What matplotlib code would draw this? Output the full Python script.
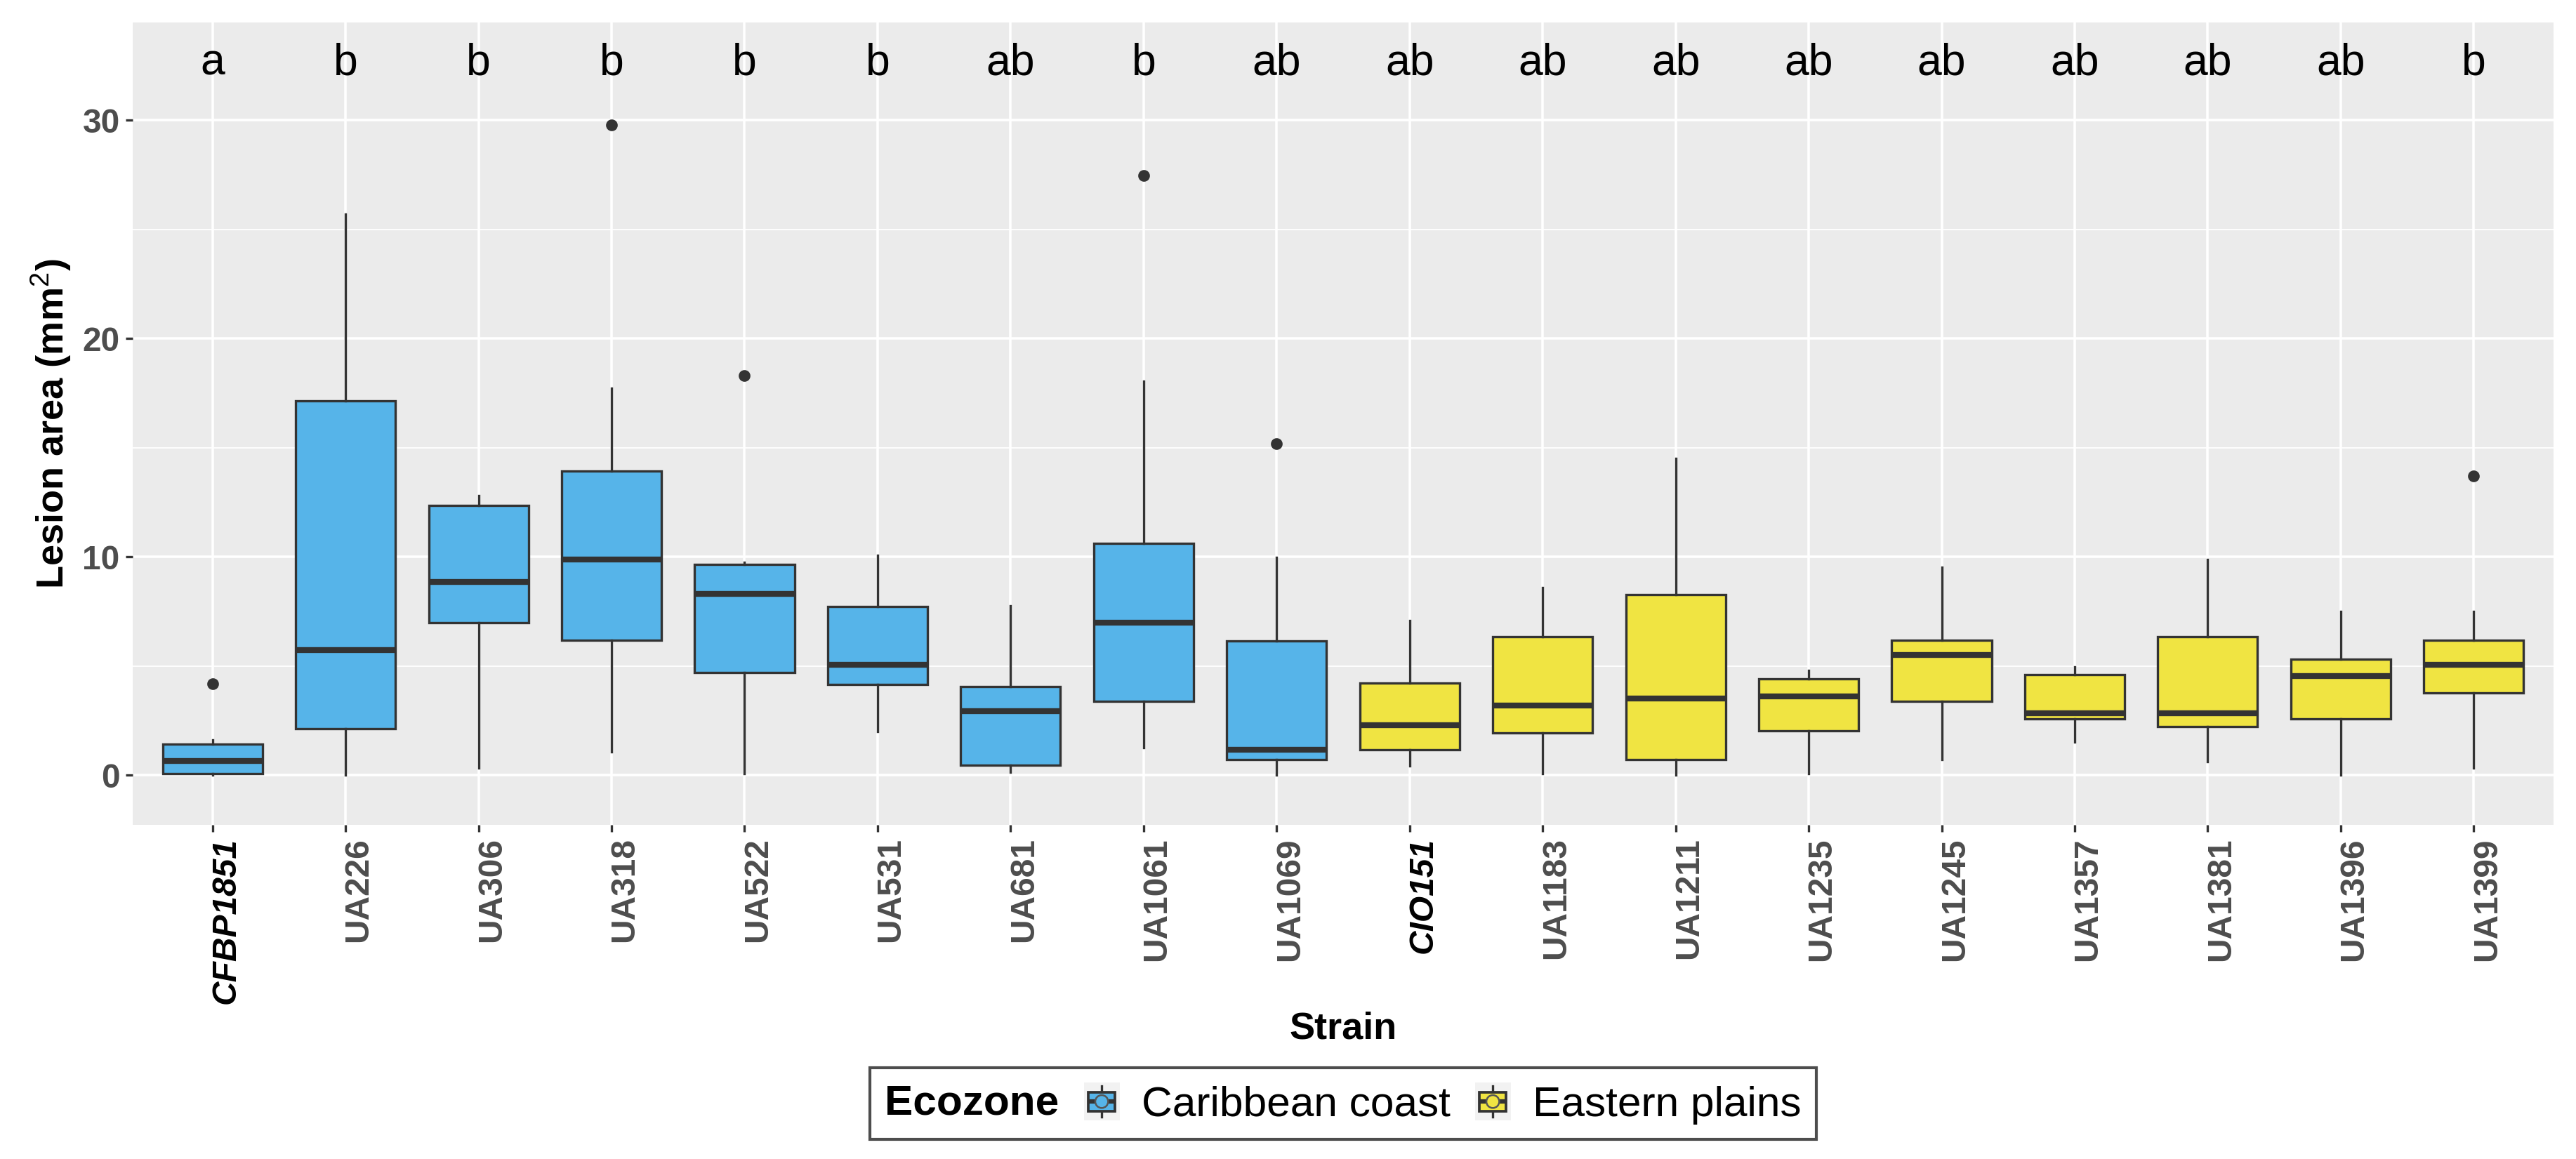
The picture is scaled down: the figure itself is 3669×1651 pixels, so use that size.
import matplotlib
matplotlib.use("Agg")
import matplotlib.pyplot as plt
from matplotlib.patches import Rectangle, Ellipse, Patch
from matplotlib.lines import Line2D
from matplotlib.legend_handler import HandlerBase
from matplotlib.transforms import ScaledTranslation

plt.rcParams['font.family'] = ['Liberation Sans', 'DejaVu Sans']
plt.rcParams['mathtext.fontset'] = 'custom'
plt.rcParams['mathtext.rm'] = 'Liberation Sans'
plt.rcParams['mathtext.it'] = 'Liberation Sans:italic'
plt.rcParams['mathtext.bf'] = 'Liberation Sans:bold'

# ---------------- data ----------------
strains = ['CFBP1851', 'UA226', 'UA306', 'UA318', 'UA522', 'UA531', 'UA681', 'UA1061', 'UA1069',
           'CIO151', 'UA1183', 'UA1211', 'UA1235', 'UA1245', 'UA1357', 'UA1381', 'UA1396', 'UA1399']
ecozone = ['Caribbean coast'] * 9 + ['Eastern plains'] * 9
reference_strains = ['CFBP1851', 'CIO151']
whislo = [0.0, 0.0, 0.33, 1.06, 0.07, 2.0, 0.14, 1.25, 0.0, 0.42, 0.07, 0.0, 0.07, 0.71, 1.53, 0.61, 0.0, 0.33]
q1 = [0.07, 2.12, 7.0, 6.17, 4.71, 4.15, 0.45, 3.39, 0.73, 1.18, 1.93, 0.73, 2.03, 3.39, 2.57, 2.22, 2.57, 3.77]
med = [0.66, 5.73, 8.86, 9.88, 8.32, 5.07, 2.95, 7.0, 1.18, 2.31, 3.21, 3.51, 3.61, 5.51, 2.85, 2.85, 4.53, 5.07]
q3 = [1.44, 17.16, 12.35, 13.93, 9.66, 7.73, 4.05, 10.61, 6.15, 4.22, 6.34, 8.27, 4.41, 6.17, 4.6, 6.34, 5.33, 6.17]
whishi = [1.63, 25.69, 12.82, 17.72, 9.76, 10.06, 7.75, 18.03, 9.97, 7.09, 8.6, 14.52, 4.81, 9.52, 4.95, 9.88, 7.49, 7.49]
outliers = [[4.2], [], [], [29.77], [18.31], [], [], [27.46], [15.18], [], [], [], [], [], [], [], [], [13.69]]
letters = ['a', 'b', 'b', 'b', 'b', 'b', 'ab', 'b', 'ab', 'ab', 'ab', 'ab', 'ab', 'ab', 'ab', 'ab', 'ab', 'b']
letter_y = 32.08
zone_colors = {'Caribbean coast': '#56B4E9', 'Eastern plains': '#F0E442'}

# ---------------- figure ----------------
W, H, DPI = 3669, 1651, 300
fig = plt.figure(figsize=(W / DPI, H / DPI), dpi=DPI)
pl, pr, pt, pb = 189, 3637, 32, 1175
ax = fig.add_axes([pl / W, 1 - pb / H, (pr - pl) / W, (pb - pt) / H])
ax.set_facecolor('#EBEBEB')
for s in ax.spines.values():
    s.set_visible(False)
ax.set_axisbelow(True)

positions = list(range(1, len(strains) + 1))
stats = []
for i, name in enumerate(strains):
    stats.append(dict(label=name, whislo=whislo[i], q1=q1[i], med=med[i], q3=q3[i],
                      whishi=whishi[i], fliers=outliers[i]))

edge = '#333333'
bp = ax.bxp(stats, positions=positions, widths=0.75, patch_artist=True, showcaps=False,
            boxprops=dict(edgecolor=edge, linewidth=0.8),
            whiskerprops=dict(color=edge, linewidth=0.8),
            medianprops=dict(color=edge, linewidth=2.0, solid_capstyle='butt'),
            flierprops=dict(marker='o', markerfacecolor=edge, markeredgecolor=edge,
                            markersize=3.0, linestyle='none'))
for patch, z in zip(bp['boxes'], ecozone):
    patch.set_facecolor(zone_colors[z])
    patch.set_zorder(3)
for ln in bp['medians'] + bp['whiskers'] + bp['fliers']:
    ln.set_zorder(4)

for x, lab in zip(positions, letters):
    ax.text(x, letter_y, lab, ha='center', va='baseline', fontsize=15, color='black')

ax.set_xlim(0.4, len(strains) + 0.6)
ax.set_ylim(-2.27, 34.47)
ax.set_yticks([0, 10, 20, 30])
ax.set_yticks([5, 15, 25], minor=True)
ax.grid(which='major', color='white', linewidth=0.85)
ax.grid(which='minor', axis='y', color='white', linewidth=0.45)
ax.tick_params(axis='y', which='minor', length=0)
ax.tick_params(axis='both', which='major', length=2.4, width=0.8, color=edge, pad=2.0)

ax.set_xticks(positions)
ax.set_xticklabels(strains, rotation=90, ha='center', va='top')
offset = ScaledTranslation(19 / DPI, 0, fig.dpi_scale_trans)
for lbl in ax.get_xticklabels():
    lbl.set_fontsize(11.5)
    lbl.set_fontweight('bold')
    lbl.set_transform(lbl.get_transform() + offset)
    if lbl.get_text() in reference_strains:
        lbl.set_fontstyle('italic')
        lbl.set_color('black')
    else:
        lbl.set_color('#4D4D4D')
for lbl in ax.get_yticklabels():
    lbl.set_fontsize(11.5)
    lbl.set_fontweight('bold')
    lbl.set_color('#4D4D4D')

fig.text(73 / W, 1 - 604 / H, r'Lesion area (mm$^{2}$)', rotation=90, ha='center', va='center',
         fontsize=13, fontweight='bold', color='black')
fig.text((pl + pr) / 2 / W, 1 - 1466 / H, 'Strain', ha='center', va='center',
         fontsize=13, fontweight='bold', color='black')


# ---------------- legend ----------------
class BoxKeyHandler(HandlerBase):
    def create_artists(self, legend, orig_handle, xdescent, ydescent, width, height, fontsize, trans):
        x0, y0 = -xdescent, -ydescent
        fc = orig_handle.get_facecolor()
        arts = []
        bg = Rectangle((x0, y0), width, height, facecolor='#F2F2F2', edgecolor='none')
        arts.append(bg)
        cx = x0 + width / 2
        cy = y0 + height / 2
        bw, bh = 0.74 * width, 0.5 * height
        arts.append(Line2D([cx, cx], [y0 + 0.09 * height, y0 + 0.91 * height], color=edge, lw=0.8))
        arts.append(Rectangle((cx - bw / 2, cy - bh / 2), bw, bh, facecolor=fc, edgecolor=edge, lw=0.9))
        arts.append(Line2D([cx - bw / 2, cx + bw / 2], [cy, cy], color=edge, lw=1.5, solid_capstyle='butt'))
        d = 0.36 * width
        arts.append(Ellipse((cx, cy), d, d, facecolor=fc, edgecolor='#555555', lw=0.6))
        for a in arts:
            a.set_transform(trans)
        return arts


zones = ['Caribbean coast', 'Eastern plains']
handles = [Patch(facecolor=zone_colors[z]) for z in zones]
leg = fig.legend(handles, zones, loc='center', bbox_to_anchor=((pl + pr) / 2 / W, 1 - 1572 / H),
                 ncol=2, fontsize=14.5, title='Ecozone',
                 title_fontproperties={'weight': 'bold', 'size': 14.5},
                 handler_map={Patch: BoxKeyHandler()},
                 handlelength=0.84, handleheight=1.0, handletextpad=0.52, columnspacing=0.58,
                 borderpad=0.35, frameon=True, fancybox=False, edgecolor='#4D4D4D', framealpha=1)
leg.get_frame().set_linewidth(1.0)
vp = leg._legend_box
title_box, handle_box = vp.get_children()
vp._children = [handle_box]
handle_box._children.insert(0, title_box)
handle_box.align = 'center'

fig.savefig('out.png', dpi=DPI, facecolor='white')
